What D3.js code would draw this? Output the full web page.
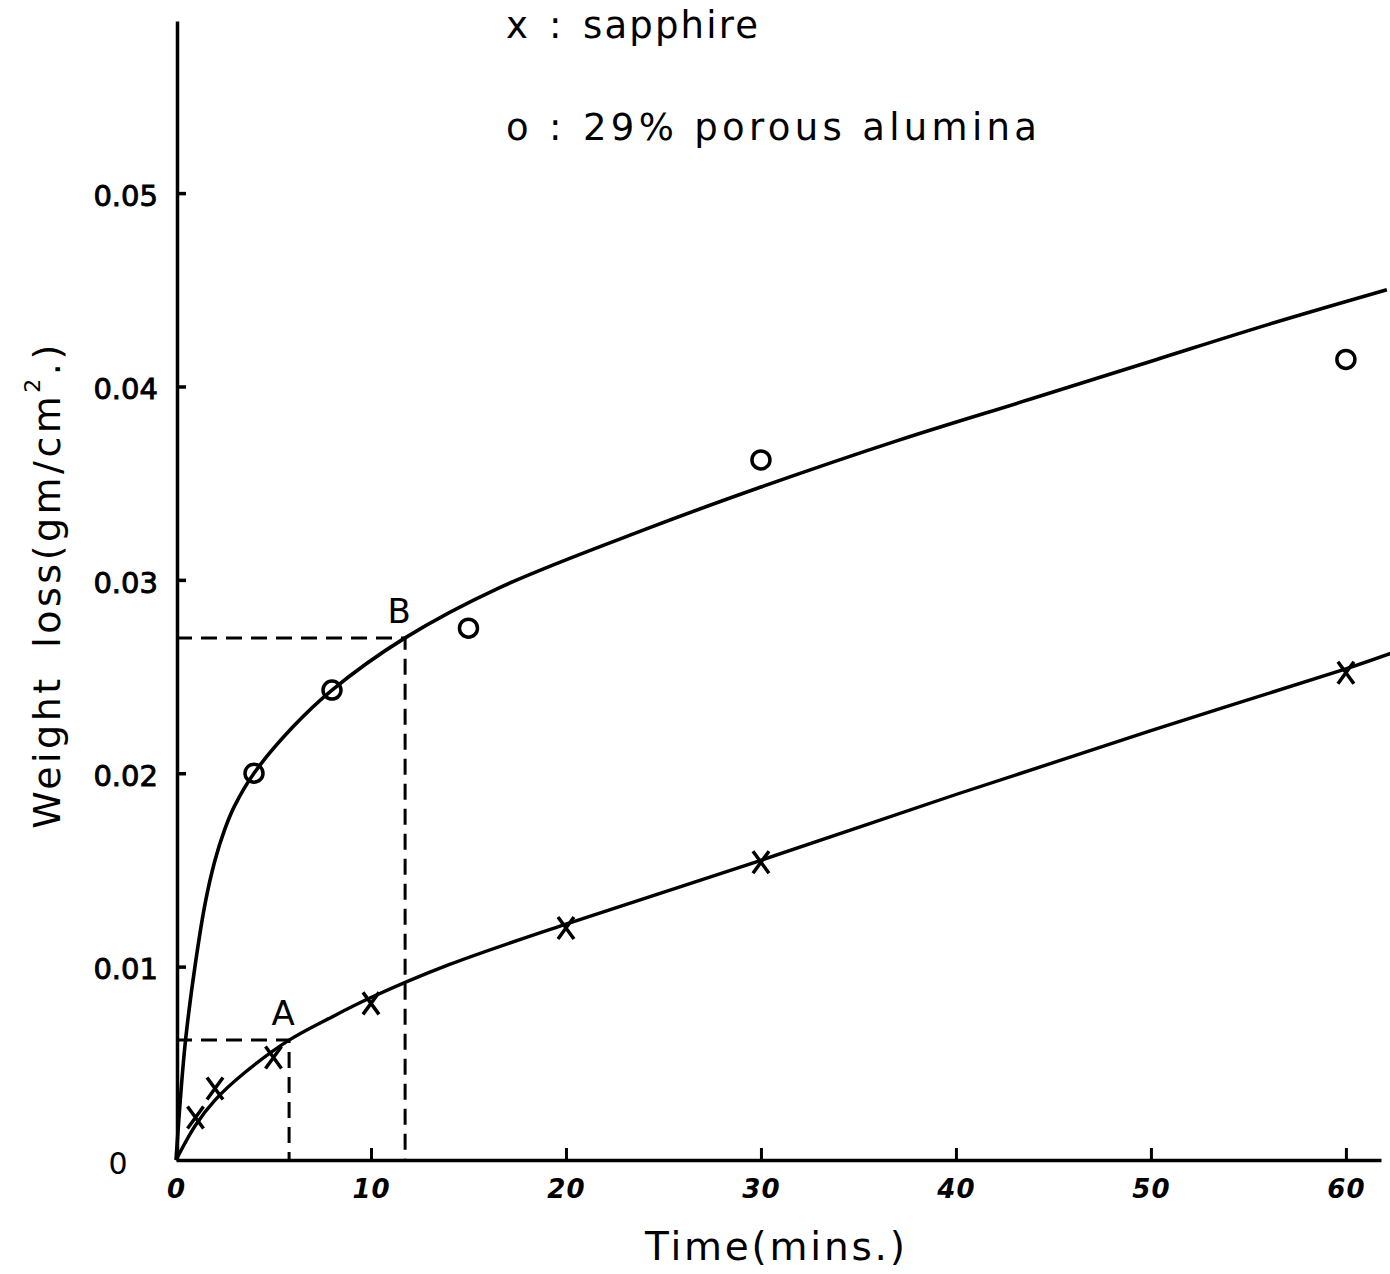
<!DOCTYPE html>
<html><head><meta charset="utf-8">
<script src="https://cdn.jsdelivr.net/npm/d3@7"></script>
<style>body{margin:0;background:#fff}svg{display:block}</style>
</head><body>
<svg id="chart" width="1390" height="1274"></svg>
<script>
// ---- data ----
const xTicks = [0, 10, 20, 30, 40, 50, 60];
const yTicks = [0.01, 0.02, 0.03, 0.04, 0.05];

const sapphireTime = [1, 2, 5, 10, 20, 30, 60];
const sapphireLoss = [0.0022, 0.0037, 0.0053, 0.0081, 0.0120, 0.0154, 0.0252];

const aluminaTime = [4, 8, 15, 30, 60];
const aluminaLoss = [0.0200, 0.0243, 0.0275, 0.0362, 0.0414];

const aluminaCurveTime = [0, 0.25, 0.5, 1, 1.5, 2, 2.5, 3, 4, 6, 8, 11.75, 16.6, 24.3, 30, 37, 44, 50.3, 56, 62.1];
const aluminaCurveLoss = [0, 0.0035, 0.0063, 0.0102, 0.0133, 0.0155, 0.0171, 0.0183, 0.0200, 0.0224, 0.0243, 0.0270, 0.0296, 0.0327, 0.0348, 0.0372, 0.0394, 0.0414, 0.0432, 0.0450];

const sapphireCurveTime = [0, 1, 2, 3.5, 5.8, 8, 10, 14, 20, 30, 40, 50, 60, 62.3];
const sapphireCurveLoss = [0, 0.0018, 0.0031, 0.0045, 0.0062, 0.0074, 0.0084, 0.0101, 0.0122, 0.0155, 0.0189, 0.0222, 0.0254, 0.0262];

const refLabels = ["A", "B"];
const refTime = [5.8, 11.75];
const refLoss = [0.0062, 0.0270];

const legendSymbols = ["x", "o"];
const legendLabels = ["sapphire", "29% porous alumina"];

const xTitle = "Time(mins.)";
const yTitleMain = "Weight loss(gm/cm";
const yTitleSup = "2";
const yTitleEnd = ".)";

// ---- chart ----
const svg = d3.select("#chart");
const FONT = "'DejaVu Sans', sans-serif";
const x = d3.scaleLinear().domain([0, 61.8]).range([176, 1381]);
const y = d3.scaleLinear().domain([0, 0.0589]).range([1160, 21]);

// axes
const gx = svg.append("g").attr("transform", `translate(0,${y(0)})`)
  .call(d3.axisBottom(x).tickValues(xTicks).tickSizeInner(-12).tickSizeOuter(0)
    .tickPadding(20).tickFormat(d3.format("d")));
gx.select(".domain").attr("stroke", "#000").attr("stroke-width", 3.5);
gx.selectAll(".tick line").attr("stroke", "#000").attr("stroke-width", 3);
gx.selectAll(".tick text").attr("font-family", FONT).attr("font-size", 26)
  .attr("font-style", "italic").attr("font-weight", "bold").attr("letter-spacing", 1).attr("fill", "#000");

const gy = svg.append("g").attr("transform", `translate(${x(0) + 1},0)`)
  .call(d3.axisLeft(y).tickValues(yTicks).tickSizeInner(-9).tickSizeOuter(0)
    .tickPadding(19).tickFormat(d => d.toFixed(2)));
gy.select(".domain").attr("stroke", "#000").attr("stroke-width", 3.5);
gy.selectAll(".tick line").attr("stroke", "#000").attr("stroke-width", 3.5);
gy.selectAll(".tick text").attr("font-family", FONT).attr("font-size", 29)
  .attr("stroke", "#000").attr("stroke-width", 0.9).attr("letter-spacing", 0)
  .attr("dy", "0.42em").attr("fill", "#000");

// y origin label
svg.append("text").attr("x", 118).attr("y", y(0) + 14).attr("text-anchor", "middle")
  .attr("font-family", FONT).attr("font-size", 30).text("0");

// dashed reference lines
refTime.forEach((t, i) => {
  const w = refLoss[i];
  svg.append("path")
    .attr("d", `M${x(0)},${y(w)}H${x(t)}V${y(0)}`)
    .attr("fill", "none").attr("stroke", "#000").attr("stroke-width", 3)
    .attr("stroke-dasharray", "16,9");
  svg.append("text").attr("x", x(t) - 6).attr("y", y(w) - 15).attr("text-anchor", "middle")
    .attr("font-family", FONT).attr("font-size", 34).text(refLabels[i]);
});

// curves
const line = d3.line().x(d => x(d[0])).y(d => y(d[1])).curve(d3.curveCatmullRom.alpha(0.5));
svg.append("path").datum(aluminaCurveTime.map((t, i) => [t, aluminaCurveLoss[i]]))
  .attr("d", line).attr("fill", "none").attr("stroke", "#000").attr("stroke-width", 3.6);
svg.append("path").datum(sapphireCurveTime.map((t, i) => [t, sapphireCurveLoss[i]]))
  .attr("d", line).attr("fill", "none").attr("stroke", "#000").attr("stroke-width", 3.4);

// markers
svg.append("g").selectAll("circle").data(aluminaTime).join("circle")
  .attr("cx", d => x(d)).attr("cy", (d, i) => y(aluminaLoss[i])).attr("r", 9)
  .attr("fill", "none").attr("stroke", "#000").attr("stroke-width", 3.5);
svg.append("g").selectAll("path").data(sapphireTime).join("path")
  .attr("d", (d, i) => {
    const cx = x(d), cy = y(sapphireLoss[i]);
    return `M${cx - 8},${cy - 11}L${cx + 8},${cy + 11}M${cx + 8},${cy - 11}L${cx - 8},${cy + 11}`;
  })
  .attr("fill", "none").attr("stroke", "#000").attr("stroke-width", 3.5);

// legend
const legendRowsY = [38, 140];
const legendLengths = [175, 454];
legendLabels.forEach((lab, i) => {
  const g = svg.append("g").attr("font-family", FONT).attr("font-size", 37).attr("fill", "#000");
  g.append("text").attr("x", 506).attr("y", legendRowsY[i]).text(legendSymbols[i]);
  g.append("text").attr("x", 549).attr("y", legendRowsY[i]).text(":");
  g.append("text").attr("x", 583).attr("y", legendRowsY[i])
    .attr("textLength", legendLengths[i]).attr("lengthAdjust", "spacing").text(lab);
});

// axis titles
svg.append("text").attr("x", 645).attr("y", 1260).attr("font-family", FONT).attr("font-size", 39)
  .attr("textLength", 260).attr("lengthAdjust", "spacing").text(xTitle);

const yt = svg.append("text").attr("transform", "translate(60,585) rotate(-90)")
  .attr("text-anchor", "middle").attr("font-family", FONT).attr("font-size", 38)
  .attr("letter-spacing", 3.5).attr("word-spacing", 12);
yt.append("tspan").text(yTitleMain);
yt.append("tspan").attr("font-size", 22).attr("dy", -20).text(yTitleSup);
yt.append("tspan").attr("dy", 20).text(yTitleEnd);
</script>
</body></html>
